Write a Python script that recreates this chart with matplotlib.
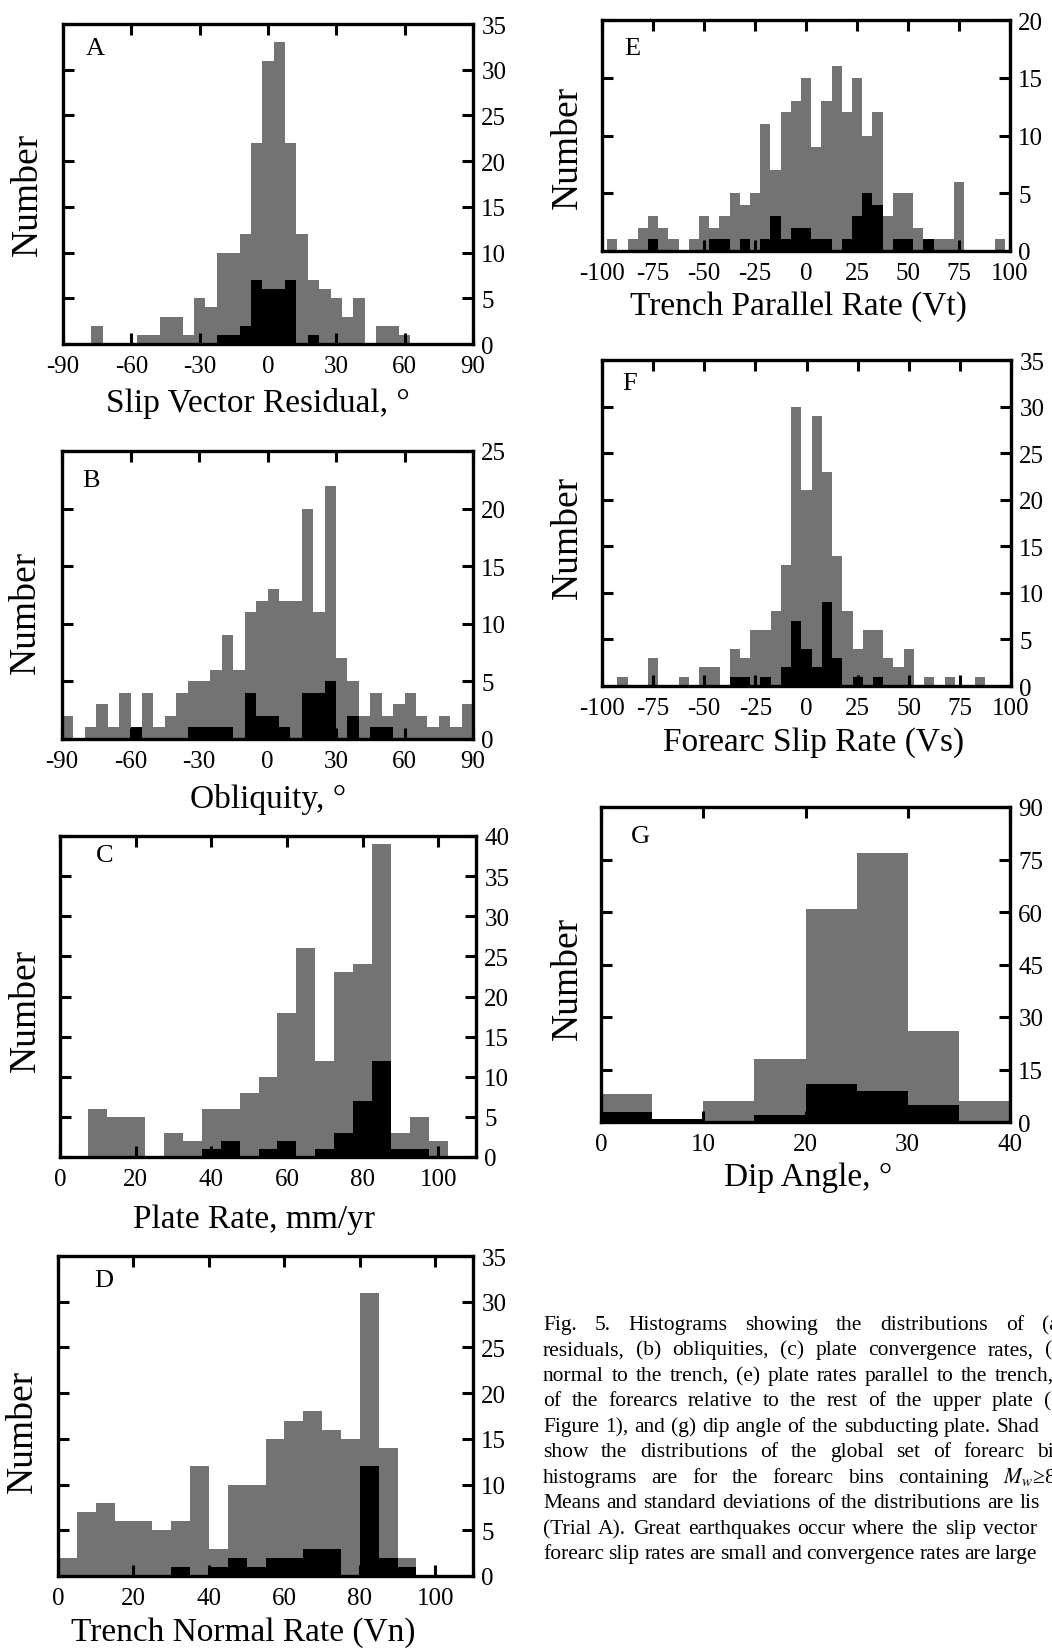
import numpy as np
import matplotlib
matplotlib.use("Agg")
import matplotlib.pyplot as plt

plt.rcParams['font.family'] = ['Liberation Serif', 'DejaVu Serif']
plt.rcParams['mathtext.fontset'] = 'stix'
plt.rcParams['axes.unicode_minus'] = False

W, H = 1052, 1649
GRAY = '#737373'

# counts per bin: *_all = every forearc bin (gray), *_big = bins with Mw>=8 (black)
# A: slip vector residual, 5 deg bins centred on -75 ... 60
a_all = [2, 0, 0, 0, 1, 1, 3, 3, 1, 5, 4, 10, 10, 12, 22, 31, 33, 22, 12, 7, 6, 5, 3, 5, 0, 2, 2, 1]
a_big = [0, 0, 0, 0, 0, 0, 0, 0, 0, 0, 0, 1, 1, 2, 7, 6, 6, 7, 0, 1, 0, 0, 0, 0, 0, 0, 0, 0]

# B: obliquity, 5 deg bins from -90 to 90
b_all = [2, 0, 1, 3, 1, 4, 1, 4, 1, 2, 4, 5, 5, 6, 9, 6, 11, 12, 13, 12,
         12, 20, 11, 22, 7, 5, 2, 4, 2, 3, 4, 2, 1, 2, 1, 3]
b_big = [0, 0, 0, 0, 0, 0, 1, 0, 0, 0, 0, 1, 1, 1, 1, 0, 4, 2, 2, 1,
         0, 4, 4, 5, 0, 2, 0, 1, 1, 0, 0, 0, 0, 0, 0, 0]

# C: plate rate (mm/yr), bins centred on 10 ... 100
c_all = [6, 5, 5, 0, 3, 2, 6, 6, 8, 10, 18, 26, 12, 23, 24, 39, 3, 5, 2]
c_big = [0, 0, 0, 0, 0, 0, 1, 2, 0, 1, 2, 0, 1, 3, 7, 12, 1, 1, 0]

# D: trench normal rate, bins from 0 to 95
d_all = [2, 7, 8, 6, 6, 5, 6, 12, 3, 10, 10, 15, 17, 18, 16, 15, 31, 14, 2]
d_big = [0, 0, 0, 0, 0, 0, 1, 0, 1, 2, 1, 2, 2, 3, 3, 0, 12, 2, 1]

# E: trench parallel rate, bins centred on -95 ... 95
e_all = [1, 0, 1, 2, 3, 2, 1, 0, 1, 3, 2, 3, 5, 4, 5, 11, 7, 12, 13, 15,
         9, 13, 16, 12, 15, 10, 12, 3, 5, 5, 2, 1, 1, 1, 6, 0, 0, 0, 1]
e_big = [0, 0, 0, 0, 1, 0, 0, 0, 0, 0, 1, 1, 0, 1, 0, 1, 3, 1, 2, 2,
         1, 1, 0, 1, 3, 5, 4, 0, 1, 1, 0, 1, 0, 0, 0, 0, 0, 0, 0]

# F: forearc slip rate, bins centred on -90 ... 85
f_all = [1, 0, 0, 3, 0, 0, 1, 0, 2, 2, 0, 4, 3, 6, 6, 8, 13, 30, 21, 29,
         23, 14, 8, 4, 6, 6, 3, 2, 4, 0, 1, 0, 1, 0, 0, 1]
f_big = [0, 0, 0, 0, 0, 0, 0, 0, 0, 0, 0, 1, 1, 0, 1, 0, 2, 7, 4, 2,
         9, 3, 0, 1, 0, 1, 0, 0, 0, 0, 0, 0, 0, 0, 0, 0]

# G: dip angle, 5 deg bins from 0 to 40
g_all = [8, 1, 6, 18, 61, 77, 26, 6]
g_big = [3, 1, 0, 2, 11, 9, 5, 0]

panels = [
    # rect / xl / yl / lt are pixel spots measured on the page
    dict(letter='A', all=a_all, big=a_big, lo=-77.5, xlim=(-90, 90), xstep=30, ymax=35, ystep=5,
         xlabel='Slip Vector Residual, °', rect=(63, 25, 473, 345), xl=(258, 412), yl=(28, 194), lt=(86, 38)),
    dict(letter='B', all=b_all, big=b_big, lo=-90, xlim=(-90, 90), xstep=30, ymax=25, ystep=5,
         xlabel='Obliquity, °', rect=(62, 452, 473, 740), xl=(268, 808), yl=(26, 612), lt=(82, 470)),
    dict(letter='C', all=c_all, big=c_big, lo=7.5, xlim=(0, 110), xstep=20, ymax=40, ystep=5,
         xlabel='Plate Rate, mm/yr', rect=(60, 837, 476, 1158), xl=(254, 1228), yl=(26, 1010), lt=(96, 845)),
    dict(letter='D', all=d_all, big=d_big, lo=0, xlim=(0, 110), xstep=20, ymax=35, ystep=5,
         xlabel='Trench Normal Rate (Vn)', rect=(58, 1257, 473, 1577), xl=(243, 1641), yl=(23, 1431), lt=(94, 1270)),
    dict(letter='E', all=e_all, big=e_big, lo=-97.5, xlim=(-100, 100), xstep=25, ymax=20, ystep=5,
         xlabel='Trench Parallel Rate (Vt)', rect=(602, 21, 1010, 252), xl=(798, 315), yl=(568, 147), lt=(624, 38)),
    dict(letter='F', all=f_all, big=f_big, lo=-92.5, xlim=(-100, 100), xstep=25, ymax=35, ystep=5,
         xlabel='Forearc Slip Rate (Vs)', rect=(602, 361, 1011, 687), xl=(814, 751), yl=(568, 537), lt=(622, 373)),
    dict(letter='G', all=g_all, big=g_big, lo=0, xlim=(0, 40), xstep=10, ymax=90, ystep=15,
         xlabel='Dip Angle, °', rect=(601, 808, 1010, 1123), xl=(808, 1186), yl=(568, 978), lt=(631, 826)),
]

fig = plt.figure(figsize=(W / 100, H / 100), dpi=100)

for p in panels:
    l, t, r, b = p['rect']
    ax = fig.add_axes([l / W, 1 - b / H, (r - l) / W, (b - t) / H])
    x = p['lo'] + 5 * np.arange(len(p['all']))
    ax.bar(x, p['all'], width=5, align='edge', color=GRAY, linewidth=0)
    ax.bar(x, p['big'], width=5, align='edge', color='black', linewidth=0)
    ax.set_xlim(*p['xlim'])
    ax.set_ylim(0, p['ymax'])
    ax.set_xticks(np.arange(p['xlim'][0], p['xlim'][1] + 1, p['xstep']))
    ax.set_yticks(np.arange(0, p['ymax'] + 1, p['ystep']))
    ax.tick_params(direction='in', length=8, width=2.2, top=True, right=True,
                   labelleft=False, labelright=True, labelsize=18)
    ax.tick_params(axis='x', pad=8)
    ax.tick_params(axis='y', pad=6)
    for s in ax.spines.values():
        s.set_linewidth(2.4)

    # axis labels placed at measured pixel spots
    ax.set_xlabel(p['xlabel'], fontsize=24, va='baseline')
    ax.xaxis.set_label_coords((p['xl'][0] - l) / (r - l), (b - p['xl'][1]) / (b - t))
    ax.set_ylabel('Number', fontsize=27, va='center')
    ax.yaxis.set_label_coords((p['yl'][0] - l) / (r - l), (b - p['yl'][1]) / (b - t))

    fig.text(p['lt'][0] / W, 1 - p['lt'][1] / H, p['letter'], fontsize=19, va='top')

# caption, justified by hand (page is cropped at the right edge)
caption = [
    "Fig. 5.  Histograms showing the distributions of (a",
    "residuals, (b) obliquities, (c) plate convergence rates, (",
    "normal to the trench, (e) plate rates parallel to the trench,",
    "of the forearcs relative to the rest of the upper plate (",
    "Figure 1), and (g) dip angle of the subducting plate. Shad",
    "show the distributions of the global set of forearc bi",
    "histograms are for the forearc bins containing $M_w$≥8.0",
    "Means and standard deviations of the distributions are lis",
    "(Trial A). Great earthquakes occur where the slip vector",
    "forearc slip rates are small and convergence rates are large",
]
last_word_x = [1042, 1045, 995, 1044, 997, 1037, 1003, 1020, 983, 995]
cap_x0, cap_y0, cap_dy = 543, 1330, 25.5

rend = fig.canvas.get_renderer()
for i, line in enumerate(caption):
    yy = 1 - (cap_y0 + i * cap_dy) / H
    words = line.split()
    arts = [fig.text(0, yy, w, fontsize=15.5, va='baseline') for w in words]
    widths = [a.get_window_extent(rend).width for a in arts]
    gap = (last_word_x[i] - cap_x0 - sum(widths[:-1])) / (len(words) - 1)
    xx = cap_x0
    for a, wd in zip(arts, widths):
        a.set_x(xx / W)
        xx += wd + gap

fig.savefig('out.png', dpi=100)
